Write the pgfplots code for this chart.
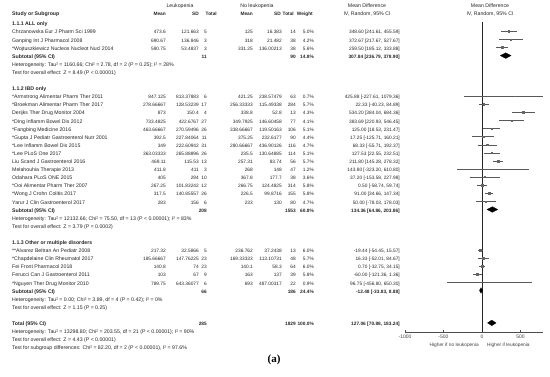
\documentclass[border=0pt]{standalone}
\usepackage{fontspec}
\setmainfont{Liberation Sans}
\newfontfamily\seriffont{Liberation Serif}
\usepackage{pgfplots}
\usepackage{pgfplotstable}
\pgfplotsset{compat=1.18}

% study rows: y = row index, m = mean difference, lo/hi = 95% CI, w = weight
\pgfplotstableread{
y m lo hi w
3 348.60 241.61 455.59 5.0
4 372.67 217.67 527.67 4.2
5 259.50 185.12 333.88 5.6
11 425.88 -227.61 1079.36 0.7
12 22.33 -40.23 84.89 5.7
13 534.20 384.04 684.36 4.3
14 383.69 220.93 546.45 4.1
15 125.00 18.53 231.47 5.1
16 17.25 -125.71 160.21 4.4
17 68.33 -55.71 192.37 4.7
18 127.53 22.55 232.51 5.1
19 211.80 145.28 278.32 5.7
20 143.80 -323.20 610.80 1.2
21 37.20 -153.58 227.98 3.6
22 0.50 -58.74 59.74 5.8
23 91.00 34.66 147.34 5.8
24 50.00 -78.03 178.03 4.7
30 -19.44 -54.45 15.57 6.0
31 16.33 -52.01 84.67 5.7
32 0.70 -32.75 34.15 6.0
33 -60.00 -121.36 1.36 5.8
34 96.75 -456.80 650.30 0.9
}\studies

\newcommand\numfont{\fontsize{4.8}{6}\selectfont}
\newcommand\ry[1]{-(7+8.1*(#1))*1pt}
\newcommand\TxR[3]{\node[anchor=mid east,inner sep=0pt] at (#1pt,{\ry{#2}}) {#3};}
\newcommand\TxN[3]{\node[anchor=mid east,inner sep=0pt,font=\numfont] at (#1pt,{\ry{#2}}) {#3};}
\newcommand\TxL[3]{\node[anchor=mid west,inner sep=0pt] at (#1pt,{\ry{#2}}) {#3};}
\newcommand\TxC[3]{\node[anchor=mid,inner sep=0pt] at (#1pt,{\ry{#2}}) {#3};}
\newcommand\study[9]{\TxL{12}{#1}{#2}\TxN{166}{#1}{#3}\TxN{199}{#1}{#4}\TxN{207}{#1}{#5}\TxN{253}{#1}{#6}\TxN{282}{#1}{#7}\TxN{296}{#1}{#8}\TxN{314}{#1}{#9}}
\newcommand\ci[2]{\TxN{400}{#1}{#2}}
\newcommand\subt[6]{\TxL{12}{#1}{\bfseries #2}\TxN{207}{#1}{\bfseries #3}\TxN{296}{#1}{\bfseries #4}\TxN{314}{#1}{\bfseries #5}\TxN{400}{#1}{\bfseries #6}}

\begin{document}
\begin{tikzpicture}[font=\fontsize{5.2}{6.4}\selectfont, text=black!85]
\path[use as bounding box] (0,0) rectangle (550pt,-376pt);
\begin{axis}[
  at={(405pt,-7pt)}, anchor=north west,
  x=0.077pt, y=8.1pt,
  xmin=-1000, xmax=790, ymin=-40.1, ymax=0,
  axis x line*=bottom, axis y line=none,
  xtick={-1000,-500,0,500}, xticklabels={-1000,-500,0,500},
  tick label style={font=\fontsize{5}{6}\selectfont, text=black!75},
  major tick length=2pt, tick align=inside,
  axis line style={black!70, line width=0.5pt},
  tick style={black!70, line width=0.5pt},
  clip mode=individual,
]
\addplot[black!85, line width=0.55pt] coordinates {(0,-1.85) (0,-40.1)};
\addplot[only marks, scatter, mark=square*,
  scatter/use mapped color={draw=black!60, fill=black!60},
  visualization depends on={\thisrow{w} \as \wt},
  scatter/@pre marker code/.append style={/tikz/mark size=0.15*\wt},
  error bars/.cd, x dir=both, x explicit, error mark=none,
  error bar style={black!65, line width=0.4pt}]
  table[x=m, y expr=-\thisrow{y},
        x error plus expr=\thisrow{hi}-\thisrow{m},
        x error minus expr=\thisrow{m}-\thisrow{lo}] {\studies};
% subtotal and total diamonds
\addplot[fill=black, draw=black, line width=0.2pt] coordinates {(236.79,-6) (307.84,-5.65) (378.90,-6) (307.84,-6.35)} -- cycle;
\addplot[fill=black, draw=black, line width=0.2pt] coordinates {(64.86,-25) (134.36,-24.65) (203.86,-25) (134.36,-25.35)} -- cycle;
\addplot[fill=black, draw=black, line width=0.2pt] coordinates {(-33.83,-35) (-12.48,-34.65) (8.88,-35) (-12.48,-35.35)} -- cycle;
\addplot[fill=black, draw=black, line width=0.2pt] coordinates {(70.88,-39) (127.06,-38.65) (183.24,-39) (127.06,-39.35)} -- cycle;
\end{axis}

% headers
\TxC{180}{-0.25}{Leukopenia}
\TxC{257}{-0.25}{No leukopenia}
\TxC{367}{-0.25}{Mean Difference}
\TxC{490}{-0.25}{Mean Difference}
\TxL{12}{0.74}{\bfseries Study or Subgroup}
\TxR{166}{0.74}{\numfont\bfseries Mean}
\TxR{199}{0.74}{\numfont\bfseries SD}
\TxR{217}{0.74}{\numfont\bfseries Total}
\TxR{253}{0.74}{\numfont\bfseries Mean}
\TxR{281}{0.74}{\numfont\bfseries SD}
\TxR{294}{0.74}{\numfont\bfseries Total}
\TxR{313}{0.74}{\numfont\bfseries Weight}
\TxC{367}{0.74}{IV, Random, 95\% CI}
\TxC{490}{0.74}{IV, Random, 95\% CI}

% 1.1.1
\TxL{12}{2}{\bfseries 1.1.1 ALL only}
\study{3}{Chrzanowska Eur J Pharm Sci 1999}{473.6}{121.663}{5}{125}{16.383}{14}{5.0\%}\ci{3}{348.60 [241.61, 455.59]}
\study{4}{Ganping Int J Pharmacol 2008}{690.67}{136.846}{3}{318}{21.482}{38}{4.2\%}\ci{4}{372.67 [217.67, 527.67]}
\study{5}{*Wojtuszkiewicz Nucleos Nucleot Nucl 2014}{590.75}{53.4837}{3}{331.25}{136.00213}{38}{5.6\%}\ci{5}{259.50 [185.12, 333.88]}
\subt{6}{Subtotal (95\% CI)}{11}{90}{14.8\%}{307.84 [236.79, 378.90]}
\TxL{12}{7}{Heterogeneity: Tau² = 1160.66; Chi² = 2.78, df = 2 (P = 0.25); I² = 28\%}
\TxL{12}{8}{Test for overall effect: Z = 8.49 (P < 0.00001)}

% 1.1.2
\TxL{12}{10}{\bfseries 1.1.2 IBD only}
\study{11}{*Armstrong Alimentar Pharm Ther 2011}{847.125}{813.37883}{6}{421.25}{238.57479}{63}{0.7\%}\ci{11}{425.88 [-227.61, 1079.36]}
\study{12}{*Broekman Alimentar Pharm Ther 2017}{278.66667}{128.53239}{17}{256.33333}{115.49338}{284}{5.7\%}\ci{12}{22.33 [-40.23, 84.89]}
\study{13}{Derijks Ther Drug Monitor 2004}{873}{150.4}{4}{338.8}{52.8}{13}{4.3\%}\ci{13}{534.20 [384.04, 684.36]}
\study{14}{*Ding Inflamm Bowel Dis 2012}{733.4825}{422.6767}{27}{349.7925}{146.60458}{77}{4.1\%}\ci{14}{383.69 [220.93, 546.45]}
\study{15}{*Fangbing Medicine 2016}{463.66667}{270.59496}{26}{338.66667}{119.50163}{106}{5.1\%}\ci{15}{125.00 [18.53, 231.47]}
\study{16}{*Gupta J Pediatr Gastroenterol Nutr 2001}{392.5}{227.84064}{11}{375.25}{232.6177}{90}{4.4\%}\ci{16}{17.25 [-125.71, 160.21]}
\study{17}{*Lee Inflamm Bowel Dis 2015}{349}{222.60942}{31}{280.66667}{436.90126}{116}{4.7\%}\ci{17}{68.33 [-55.71, 192.37]}
\study{18}{*Lee PLoS One 2017}{363.03333}{265.88896}{26}{235.5}{130.64885}{114}{5.1\%}\ci{18}{127.53 [22.55, 232.51]}
\study{19}{Liu Scand J Gastroenterol 2016}{469.11}{115.53}{13}{257.31}{83.74}{56}{5.7\%}\ci{19}{211.80 [145.28, 278.32]}
\study{20}{Melahouhia Therapie 2013}{411.8}{411}{3}{268}{148}{47}{1.2\%}\ci{20}{143.80 [-323.20, 610.80]}
\study{21}{Odahara PLoS ONE 2015}{405}{294}{10}{367.8}{177.7}{38}{3.6\%}\ci{21}{37.20 [-153.58, 227.98]}
\study{22}{*Ooi Alimentar Pharm Ther 2007}{267.25}{101.83242}{12}{266.75}{124.4825}{314}{5.8\%}\ci{22}{0.50 [-58.74, 59.74]}
\study{23}{*Wong J Crohn Colitis 2017}{317.5}{140.85557}{26}{226.5}{99.8716}{155}{5.8\%}\ci{23}{91.00 [34.66, 147.34]}
\study{24}{Yarur J Clin Gastroenterol 2017}{283}{156}{6}{233}{130}{80}{4.7\%}\ci{24}{50.00 [-78.03, 178.03]}
\subt{25}{Subtotal (95\% CI)}{208}{1553}{60.8\%}{134.36 [64.86, 203.86]}
\TxL{12}{26}{Heterogeneity: Tau² = 12132.66; Chi² = 75.50, df = 13 (P < 0.00001); I² = 83\%}
\TxL{12}{27}{Test for overall effect: Z = 3.79 (P = 0.0002)}

% 1.1.3
\TxL{12}{29}{\bfseries 1.1.3 Other or multiple disorders}
\study{30}{**Alvarez Beltran An Pediatr 2008}{217.32}{32.5866}{5}{236.762}{37.2438}{13}{6.0\%}\ci{30}{-19.44 [-54.45, 15.57]}
\study{31}{*Chapdelaine Clin Rheumatol 2017}{185.66667}{147.76225}{23}{169.33333}{113.10731}{48}{5.7\%}\ci{31}{16.33 [-52.01, 84.67]}
\study{32}{Fei Front Pharmacol 2018}{140.8}{74}{23}{140.1}{58.3}{64}{6.0\%}\ci{32}{0.70 [-32.75, 34.15]}
\study{33}{Ferucci Can J Gastroenterol 2011}{103}{67}{9}{163}{137}{39}{5.8\%}\ci{33}{-60.00 [-121.36, 1.36]}
\study{34}{*Nguyen Ther Drug Monitor 2010}{789.75}{643.36077}{6}{693}{487.00317}{22}{0.9\%}\ci{34}{96.75 [-456.80, 650.30]}
\subt{35}{Subtotal (95\% CI)}{66}{186}{24.4\%}{-12.48 [-33.83, 8.88]}
\TxL{12}{36}{Heterogeneity: Tau² = 0.00; Chi² = 3.89, df = 4 (P = 0.42); I² = 0\%}
\TxL{12}{37}{Test for overall effect: Z = 1.15 (P = 0.25)}

% total
\subt{39}{Total (95\% CI)}{285}{1829}{100.0\%}{127.06 [70.88, 183.24]}
\TxL{12}{40}{Heterogeneity: Tau² = 13298.80; Chi² = 203.55, df = 21 (P < 0.00001); I² = 90\%}
\TxL{12}{41}{Test for overall effect: Z = 4.43 (P < 0.00001)}
\TxL{12}{42}{Test for subgroup differences: Chi² = 82.20, df = 2 (P < 0.00001), I² = 97.6\%}

% axis captions
\node[anchor=mid east,inner sep=0pt,text=black!75,font=\numfont] at (479pt,-344pt) {Higher if no leukopenia};
\node[anchor=mid west,inner sep=0pt,text=black!75,font=\numfont] at (487pt,-344pt) {Higher if leukopenia};

% panel label
\node[anchor=mid,inner sep=0pt,text=black,font=\seriffont\bfseries\fontsize{11}{13}\selectfont] at (274pt,-360pt) {(a)};
\end{tikzpicture}
\end{document}
